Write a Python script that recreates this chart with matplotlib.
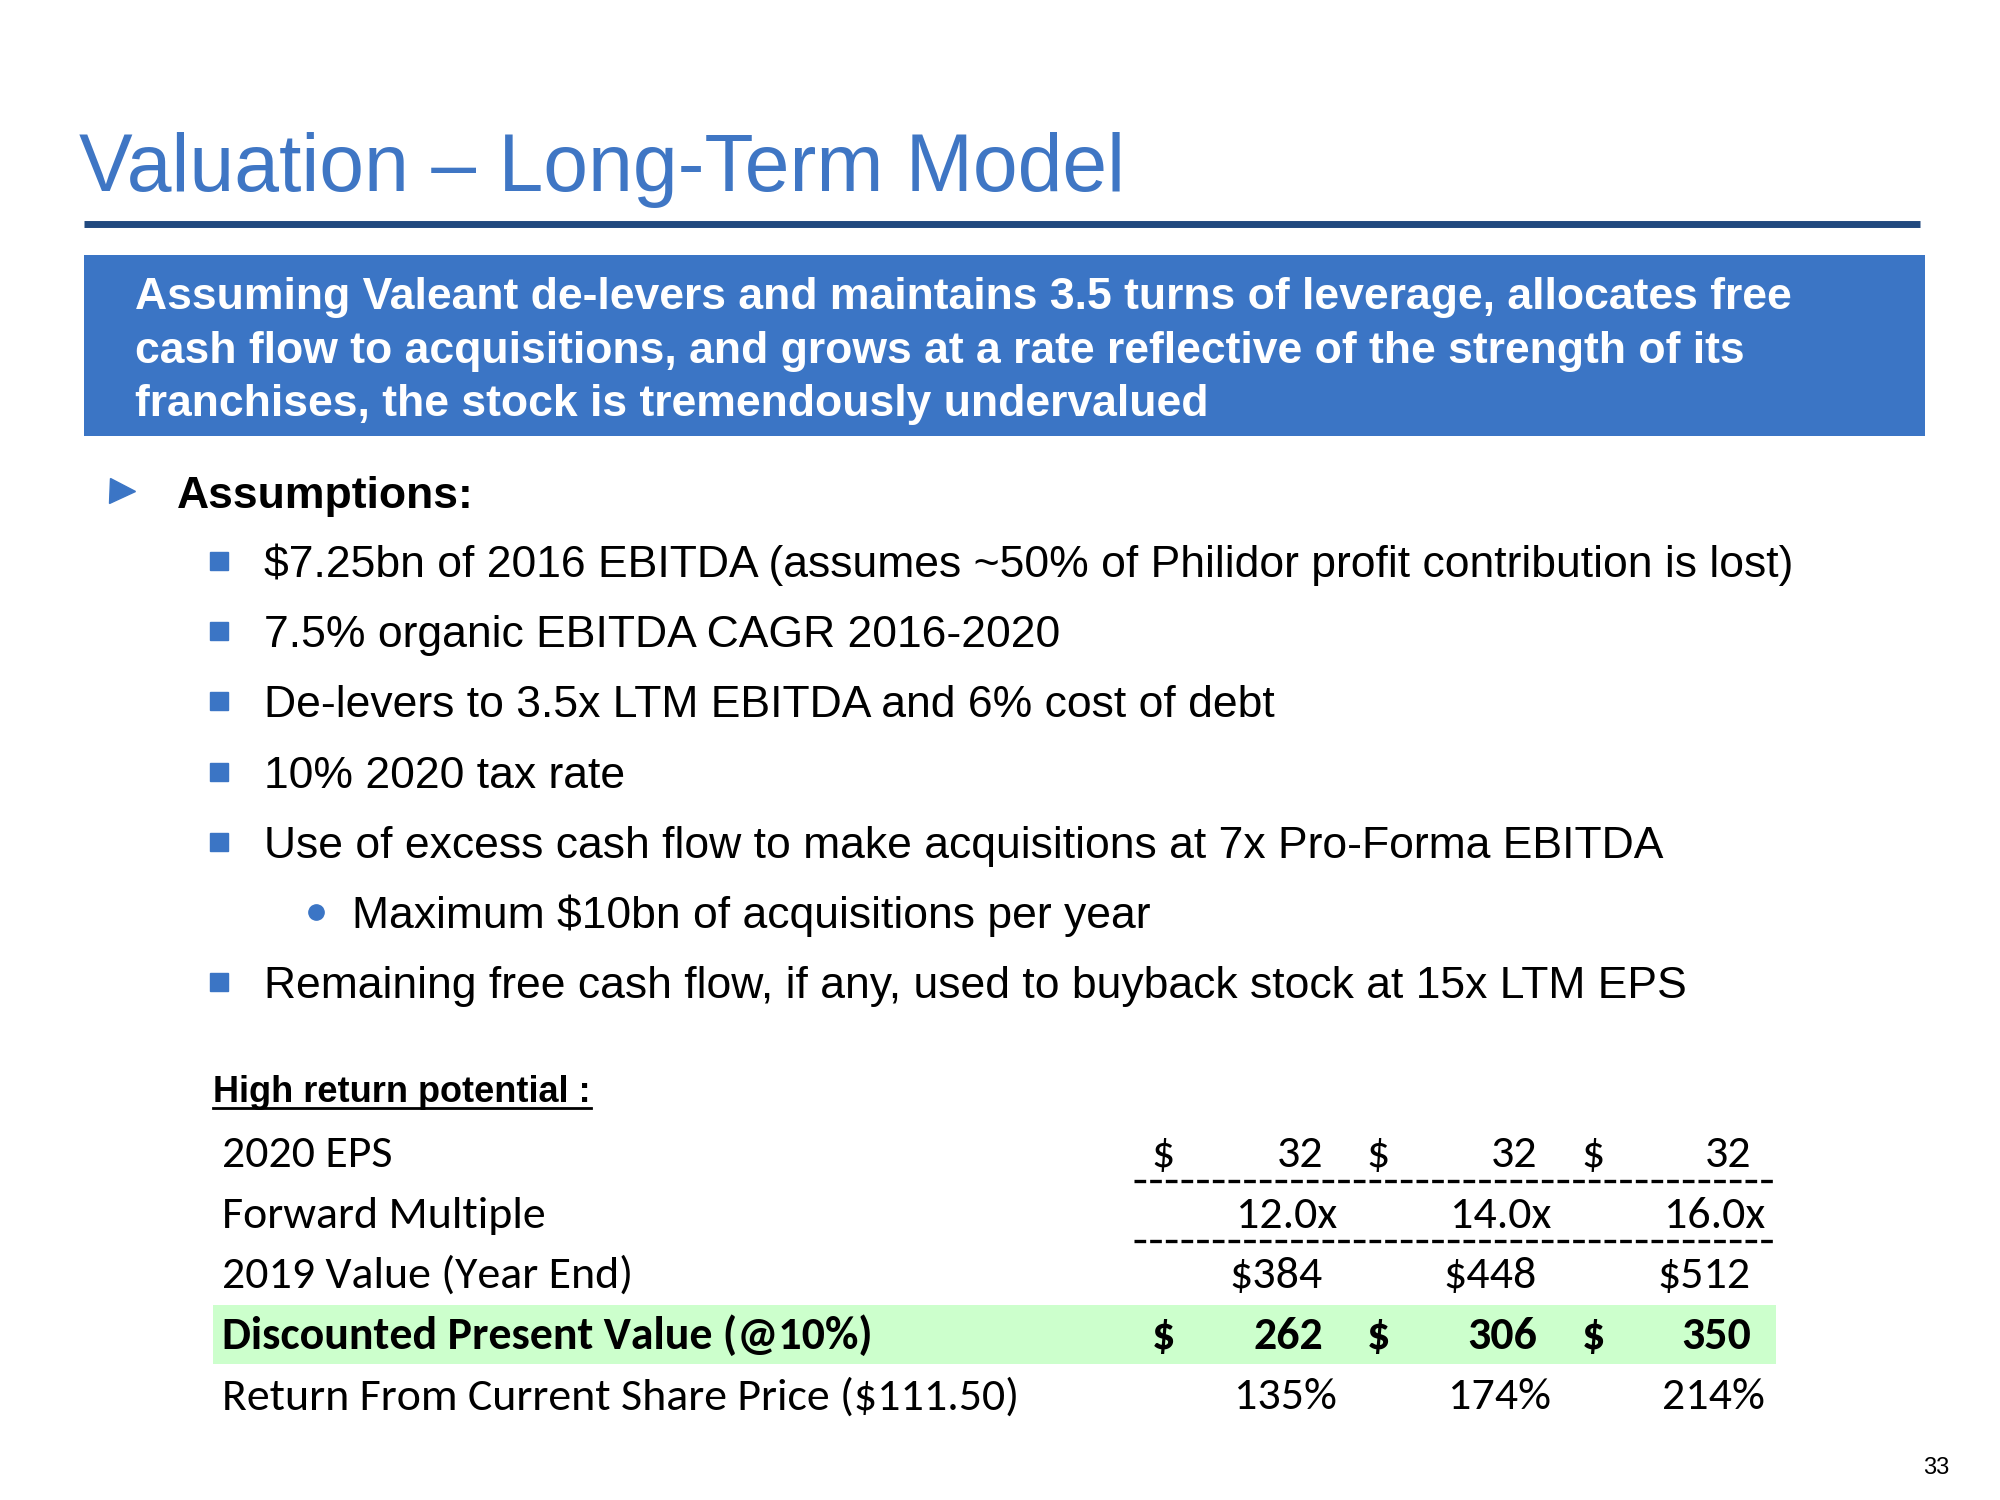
import matplotlib
matplotlib.use("Agg")
import matplotlib.pyplot as plt
from matplotlib.patches import Rectangle

# ---------------- data ----------------
title = "Valuation – Long-Term Model"
banner_lines = [
    "Assuming Valeant de-levers and maintains 3.5 turns of leverage, allocates free",
    "cash flow to acquisitions, and grows at a rate reflective of the strength of its",
    "franchises, the stock is tremendously undervalued",
]
heading = "Assumptions:"
bullets = [
    (1, "$7.25bn of 2016 EBITDA (assumes ~50% of Philidor profit contribution is lost)"),
    (1, "7.5% organic EBITDA CAGR 2016-2020"),
    (1, "De-levers to 3.5x LTM EBITDA and 6% cost of debt"),
    (1, "10% 2020 tax rate"),
    (1, "Use of excess cash flow to make acquisitions at 7x Pro-Forma EBITDA"),
    (2, "Maximum $10bn of acquisitions per year"),
    (1, "Remaining free cash flow, if any, used to buyback stock at 15x LTM EPS"),
]
table_title = "High return potential :"
row_labels = [
    "2020 EPS",
    "Forward Multiple",
    "2019 Value (Year End)",
    "Discounted Present Value (@10%)",
    "Return From Current Share Price ($111.50)",
]
eps_2020 = [32, 32, 32]
forward_multiple = [12.0, 14.0, 16.0]
value_2019 = [384, 448, 512]
present_value = [262, 306, 350]
return_pct = [135, 174, 214]
page_number = "33"

# ---------------- styling ----------------
BLUE_TITLE = "#3F76C4"
BLUE_RULE = "#21497F"
BLUE_BANNER = "#3B75C5"
BULLET_BLUE = "#3B75C5"
GREEN = "#CCFFCC"
ARIAL = ["Liberation Sans", "DejaVu Sans"]
NARROW = ["Liberation Sans Narrow", "Liberation Sans", "DejaVu Sans"]
CALIBRI = ["Carlito", "Lato", "DejaVu Sans"]
TFS = 33  # table font size

fig = plt.figure(figsize=(20, 15), dpi=100)
ax = fig.add_axes([0, 0, 1, 1])
ax.set_xlim(0, 2000)
ax.set_ylim(1500, 0)
ax.axis("off")

# title
ax.text(79, 191, title, fontsize=58, color=BLUE_TITLE, family=ARIAL, va="baseline", ha="left")
ax.plot([84, 1920], [224, 224], color=BLUE_RULE, lw=5, solid_capstyle="butt")

# banner
ax.add_patch(Rectangle((84, 255), 1841, 181, facecolor=BLUE_BANNER, edgecolor="none"))
for i, line in enumerate(banner_lines):
    ax.text(135, 309 + i * 53.5, line, fontsize=32, fontweight="bold", color="white",
            family=ARIAL, va="baseline", ha="left")

# assumptions heading
ax.plot([122], [491], marker=">", markersize=18, color=BULLET_BLUE, linestyle="none")
ax.text(177, 508, heading, fontsize=32, fontweight="bold", color="black", family=ARIAL,
        va="baseline", ha="left")

# bullets
for i, (lvl, txt) in enumerate(bullets):
    yb = 577 + i * 70.2
    if lvl == 1:
        ax.plot([218.5], [yb - 16], marker="s", markersize=12.5, color=BULLET_BLUE, linestyle="none")
        ax.text(264, yb, txt, fontsize=32, color="black", family=ARIAL, va="baseline", ha="left")
    else:
        ax.plot([316], [yb - 16], marker="o", markersize=11, color=BULLET_BLUE, linestyle="none")
        ax.text(352, yb, txt, fontsize=32, color="black", family=ARIAL, va="baseline", ha="left")

# table heading
t = ax.text(213, 1102, table_title, fontsize=26, fontweight="bold", color="black",
            family=NARROW, va="baseline", ha="left")
fig.canvas.draw()
bb = t.get_window_extent().transformed(ax.transData.inverted())
ax.plot([bb.x0, bb.x1], [1108, 1108], color="black", lw=2)

# table
row_y = [1167 + i * 60.6 for i in range(5)]
ax.add_patch(Rectangle((213, 1305), 1563, 59, facecolor=GREEN, edgecolor="none", zorder=0))
for i, lab in enumerate(row_labels):
    ax.text(222, row_y[i], lab, fontsize=TFS, color="black", family=CALIBRI,
            fontweight="bold" if i == 3 else "normal", va="baseline", ha="left")

dollar_x = [1163, 1378, 1593]
num_right = [1323, 1537, 1751]
suffix_right = [1337, 1551, 1765]
for j in range(3):
    # 2020 EPS
    ax.text(dollar_x[j], row_y[0], "$", fontsize=TFS, family=CALIBRI, ha="center", va="baseline")
    ax.text(num_right[j], row_y[0], f"{eps_2020[j]}", fontsize=TFS, family=CALIBRI, ha="right", va="baseline")
    # multiple
    ax.text(suffix_right[j], row_y[1], f"{forward_multiple[j]:.1f}x", fontsize=TFS, family=CALIBRI,
            ha="right", va="baseline")
    # 2019 value
    ax.text(num_right[j], row_y[2], f"${value_2019[j]}", fontsize=TFS, family=CALIBRI, ha="right", va="baseline")
    # DPV
    ax.text(dollar_x[j], row_y[3], "$", fontsize=TFS, family=CALIBRI, fontweight="bold", ha="center", va="baseline")
    ax.text(num_right[j], row_y[3], f"{present_value[j]}", fontsize=TFS, family=CALIBRI, fontweight="bold",
            ha="right", va="baseline")
    # return
    ax.text(suffix_right[j], row_y[4], f"{return_pct[j]}%", fontsize=TFS, family=CALIBRI, ha="right", va="baseline")

for yl in (1181, 1241):
    ax.plot([1134, 1773], [yl, yl], color="black", lw=2.4, linestyle=(0, (3.5, 1.2)))

# page number
ax.text(1936, 1474, page_number, fontsize=17, color="black", family=ARIAL, ha="center", va="baseline")

fig.savefig("out.png", dpi=100, facecolor="white")
